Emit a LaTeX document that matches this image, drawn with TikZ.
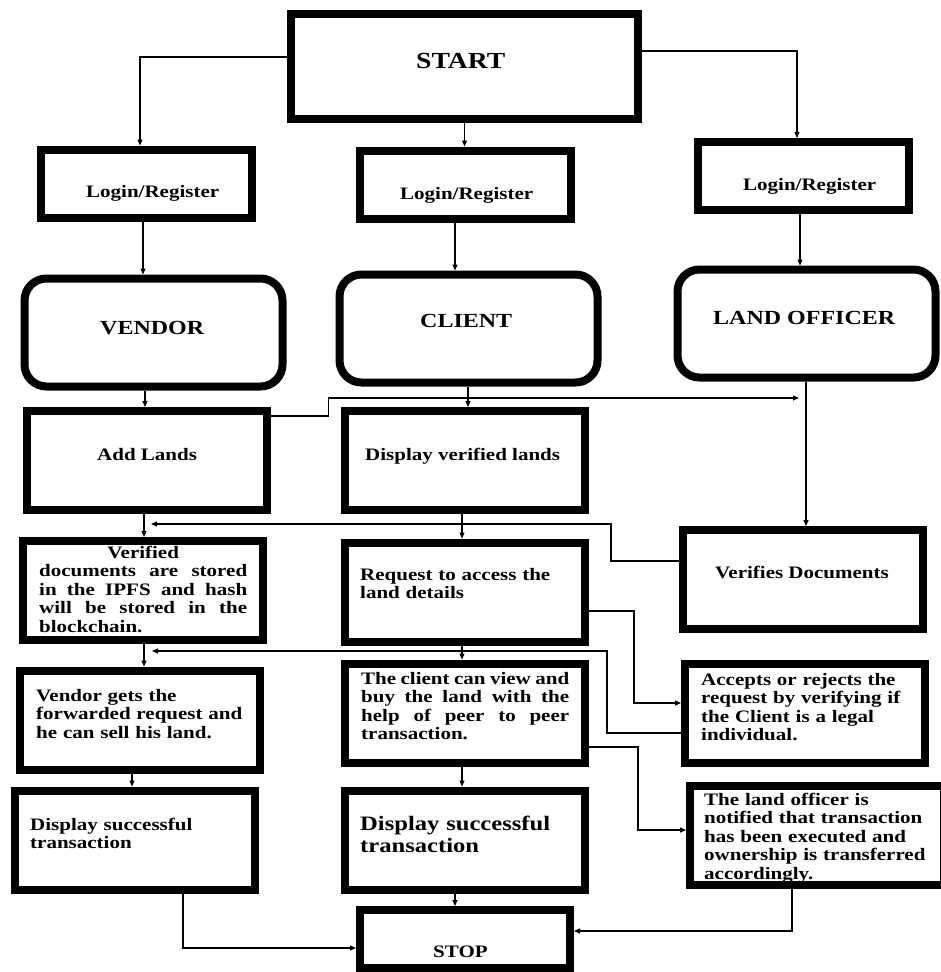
\documentclass[tikz,border=0pt]{standalone}
\usepackage{fontspec}
\setmainfont{Liberation Serif}[FakeStretch=1.2]
\usetikzlibrary{arrows.meta}

\begin{document}
\begin{tikzpicture}
    [x=1pt, y=-1pt,
    box/.style={draw, line width=8pt, inner sep=0pt},
    role/.style={box, rounded corners=22pt, minimum width=258pt, minimum height=108pt},
    login/.style={box, minimum width=211pt, minimum height=68pt},
    stepbox/.style={box, minimum width=240pt, minimum height=99pt},
    txt/.style={inner sep=0pt, anchor=base west, font=\fontsize{17.5}{18.6}\selectfont\bfseries},
    lines/.style={txt, text width=240pt, align=left},
    head/.style={txt, font=\fontsize{20}{22}\selectfont\bfseries},
    arr/.style={line width=1.1pt, -{Triangle[length=6pt,width=5pt]}}
    ]
    \useasboundingbox (0,0) rectangle (940,972);

    % boxes
    \node[box, minimum width=347pt, minimum height=105pt] (start) at (464.5,66.5) {};
    \node[login] (log1) at (146.5,183.5) {};
    \node[login] (log2) at (465,184.5) {};
    \node[login] (log3) at (803.5,176) {};
    \node[role] (vendor) at (153.5,332.5) {};
    \node[role] (client) at (468.5,328.5) {};
    \node[role] (officer) at (806.5,323.5) {};
    \node[stepbox] (add) at (146.5,460.5) {};
    \node[stepbox] (disp) at (465,460.5) {};
    \node[stepbox] (verd) at (143,590.5) {};
    \node[stepbox] (req) at (465,592) {};
    \node[stepbox] (verif) at (803,579.5) {};
    \node[stepbox] (vget) at (139.5,720) {};
    \node[stepbox] (cview) at (465,713) {};
    \node[stepbox] (accept) at (805,713.5) {};
    \node[stepbox] (dispL) at (135,840) {};
    \node[stepbox] (dispM) at (465,840) {};
    \node[box, minimum width=210pt, minimum height=58pt] (stop) at (465,939) {};

    % texts
    \node[txt, font=\fontsize{23}{25}\selectfont\bfseries] (startT) at (416,68) {START};
    \node[txt] (log1T) at (86,197) {Login/Register};
    \node[txt] (log2T) at (400,199) {Login/Register};
    \node[txt] (log3T) at (743,190) {Login/Register};
    \node[head] (vendorT) at (100,334) {VENDOR};
    \node[head] (clientT) at (420,327) {CLIENT};
    \node[head] (officerT) at (713,324) {LAND OFFICER};
    \node[txt] (addT) at (97,460) {Add Lands};
    \node[txt] (dispT) at (365,460) {Display verified lands};
    \node[txt, text width=208pt, align=justify] (verdT) at (39,558)
        {\hspace*{\fill}Verified\hspace*{\fill}\\documents are stored\linebreak in the IPFS and hash\linebreak will be stored in the\linebreak blockchain.};
    \node[lines] (reqT) at (360,580) {Request to access the\\land details};
    \node[txt] (verifT) at (715,578) {Verifies Documents};
    \node[lines] (vgetT) at (36,701) {Vendor gets the\\forwarded request and\\he can sell his land.};
    \node[txt, text width=208pt, align=justify] (cviewT) at (361,684)
        {The client can view and\linebreak buy the land with the\linebreak help of peer to peer\linebreak transaction.};
    \node[lines] (acceptT) at (701,685) {Accepts or rejects the\\request by verifying if\\the Client is a legal\\individual.};
    \node[lines] (dispLT) at (30,830) {Display successful\\transaction};
    \node[lines, font=\fontsize{20.5}{22}\selectfont\bfseries] (dispMT) at (360,830) {Display successful\\transaction};
    \node[lines] (notifT) at (704,805) {The land officer is\\notified that transaction\\has been executed and\\ownership is transferred\\accordingly.};
    \node[txt] (stopT) at (433,957) {STOP};
    % drawn after its text, the border hides the last line's descenders
    \node[box, minimum width=254pt, minimum height=99pt] (notif) at (817,835.5) {};

    \coordinate (meet) at (799,398);
    \coordinate (back1) at (151,524);
    \coordinate (back2) at (152,651);

    % connectors
    \draw[arr] (start.west |- 0,57) -| (log1.north -| 140,0);
    \draw[arr] (start.east |- 0,51) -| (log3.north -| 797,0);
    \draw[arr] (start.south) -- (log2.north -| start.south);
    \draw[arr] (log1.south -| 143,0) -- (vendor.north -| 143,0);
    \draw[arr] (log2.south -| 455,0) -- (client.north -| 455,0);
    \draw[arr] (log3.south -| 800,0) -- (officer.north -| 800,0);
    \draw[arr] (vendor.south -| 145,0) -- (add.north -| 145,0);
    \draw[arr] (client.south -| 468,0) -- (disp.north -| 468,0);
    \draw[arr] (add.east |- 0,416) -- ++(58,0) |- (meet);
    \draw[arr] (officer.south -| 806,0) -- (verif.north -| 806,0);
    \draw[arr] (add.south -| 144,0) -- (verd.north -| 144,0);
    \draw[arr] (disp.south -| 462,0) -- (req.north -| 462,0);
    \draw[arr] (verif.west |- 0,561) -- ++(-68,0) |- (back1);
    \draw[arr] (req.east |- 0,611) -- ++(45,0) |- (accept.west |- 0,703);
    \draw[arr] (accept.west |- 0,733) -- ++(-74,0) |- (back2);
    \draw[arr] (verd.south -| 144,0) -- (vget.north -| 144,0);
    \draw[arr] (req.south -| 462,0) -- (cview.north -| 462,0);
    \draw[arr] (cview.east |- 0,747) -- ++(49,0) |- (notif.west |- 0,830);
    \draw[arr] (vget.south -| 132,0) -- (dispL.north -| 132,0);
    \draw[arr] (cview.south -| 462,0) -- (dispM.north -| 462,0);
    \draw[arr] (dispM.south -| 455,0) -- (stop.north -| 455,0);
    \draw[arr] (dispL.south -| 183,0) |- (stop.west |- 0,948);
    \draw[arr] (notif.south -| 792,0) |- (stop.east |- 0,931);
\end{tikzpicture}
\end{document}
